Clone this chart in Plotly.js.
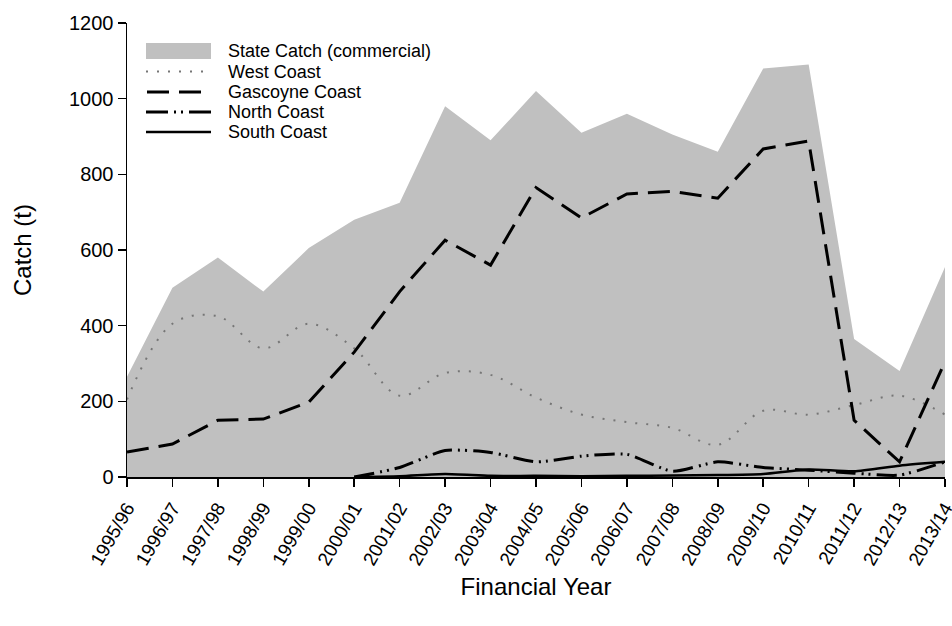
<!DOCTYPE html>
<html>
<head>
<meta charset="utf-8">
<script src="https://cdn.plot.ly/plotly-3.0.1.min.js"></script>
<style>
  html, body { margin: 0; padding: 0; background: #fff; }
  #chart { width: 952px; height: 626px; }
</style>
</head>
<body>
<div id="chart"></div>
<script>
// Financial years
const years = ["1995/96","1996/97","1997/98","1998/99","1999/00","2000/01","2001/02",
  "2002/03","2003/04","2004/05","2005/06","2006/07","2007/08","2008/09","2009/10",
  "2010/11","2011/12","2012/13","2013/14"];

// Catch (t) by series
const stateCatch = [265,500,580,490,605,680,725,980,890,1020,910,960,905,860,1080,1090,365,280,555];
const westCoast  = [205,405,425,340,405,340,215,275,270,210,165,145,130,85,175,165,190,215,165];
const gascoyne   = [66,87,150,153,198,330,490,626,560,765,685,748,755,737,867,888,150,40,305];
// North and South coast fisheries reported from 2000/01 onwards
const northYears = years.slice(5);
const northCoast = [0,25,70,65,40,55,60,15,40,25,18,10,5,40];
const southCoast = [0,2,8,3,3,2,3,4,5,8,20,15,30,40];

const seriesNames = ["State Catch (commercial)", "West Coast", "Gascoyne Coast", "North Coast", "South Coast"];

const areaFill = "#c0c0c0";
const styles = {
  west:  {color: "#767676", width: 2, dash: "2px,9px"},
  gasc:  {color: "#000", width: 3, dash: "22px,10px"},
  north: {color: "#000", width: 3, dash: "20px,6px,2px,5px,2px,6px"},
  south: {color: "#000", width: 2.5}
};

const traces = [
  {
    x: years, y: stateCatch, name: seriesNames[0],
    type: "scatter", mode: "lines", fill: "tozeroy",
    fillcolor: areaFill, line: {width: 0, color: areaFill}
  },
  {
    x: years, y: westCoast, name: seriesNames[1],
    type: "scatter", mode: "lines",
    line: Object.assign({shape: "spline", smoothing: 1}, styles.west)
  },
  {
    x: years, y: gascoyne, name: seriesNames[2],
    type: "scatter", mode: "lines",
    line: Object.assign({}, styles.gasc)
  },
  {
    x: northYears, y: northCoast, name: seriesNames[3],
    type: "scatter", mode: "lines",
    line: Object.assign({shape: "spline", smoothing: 0.6}, styles.north)
  },
  {
    x: northYears, y: southCoast, name: seriesNames[4],
    type: "scatter", mode: "lines",
    line: Object.assign({shape: "spline", smoothing: 0.6}, styles.south)
  }
];

// Key panel in the upper-left of the plot, laid out in pixels and
// converted to paper coordinates of the plot area.
const M = {l: 127, r: 7, t: 23, b: 149};
const W = 952, H = 626;
const plotW = W - M.l - M.r, plotH = H - M.t - M.b;
const px = v => (v - M.l) / plotW;
const py = v => (H - M.b - v) / plotH;

const keyRows = [51, 71.5, 92, 112, 132];
const keyX0 = 146, keyX1 = 211, keyText = 226;

const shapes = [
  {type: "rect", xref: "paper", yref: "paper",
   x0: px(keyX0), x1: px(keyX1), y0: py(keyRows[0] + 8), y1: py(keyRows[0] - 8),
   fillcolor: areaFill, line: {width: 0}},
  {type: "line", xref: "paper", yref: "paper",
   x0: px(keyX0), x1: px(keyX1 - 8), y0: py(keyRows[1]), y1: py(keyRows[1]),
   line: styles.west},
  {type: "line", xref: "paper", yref: "paper",
   x0: px(keyX0 + 1), x1: px(keyX1 - 10), y0: py(keyRows[2]), y1: py(keyRows[2]),
   line: styles.gasc},
  {type: "line", xref: "paper", yref: "paper",
   x0: px(keyX0), x1: px(keyX1 + 1), y0: py(keyRows[3]), y1: py(keyRows[3]),
   line: {color: "#000", width: 3, dash: "22px,6px,2px,5px,2px,6px"}},
  {type: "line", xref: "paper", yref: "paper",
   x0: px(keyX0), x1: px(keyX1), y0: py(keyRows[4]), y1: py(keyRows[4]),
   line: styles.south}
];

const annotations = seriesNames.map((name, i) => ({
  xref: "paper", yref: "paper", x: px(keyText), y: py(keyRows[i]),
  xanchor: "left", yanchor: "middle", showarrow: false,
  text: name, font: {size: 18, color: "#000"}
}));

const layout = {
  width: W, height: H,
  margin: M,
  paper_bgcolor: "#fff", plot_bgcolor: "#fff",
  font: {family: "Liberation Sans, Arial, sans-serif", color: "#000", size: 20},
  showlegend: false,
  shapes: shapes,
  annotations: annotations,
  xaxis: {
    type: "category", range: [0, 18],
    showgrid: false, zeroline: false,
    showline: true, linecolor: "#000", linewidth: 1.5,
    ticks: "outside", ticklen: 8, tickcolor: "#000", tickwidth: 1.5,
    tickangle: -60, tickfont: {size: 19}, ticklabelstandoff: 3,
    title: {text: "Financial Year", font: {size: 24}, standoff: 10}
  },
  yaxis: {
    range: [0, 1200], dtick: 200,
    showgrid: false, zeroline: false,
    showline: true, linecolor: "#000", linewidth: 1.5,
    ticks: "outside", ticklen: 8, tickcolor: "#000", tickwidth: 1.5,
    tickfont: {size: 20},
    title: {text: "Catch (t)", font: {size: 24}, standoff: 30}
  }
};

Plotly.newPlot("chart", traces, layout, {displayModeBar: false, staticPlot: true});
</script>
</body>
</html>
